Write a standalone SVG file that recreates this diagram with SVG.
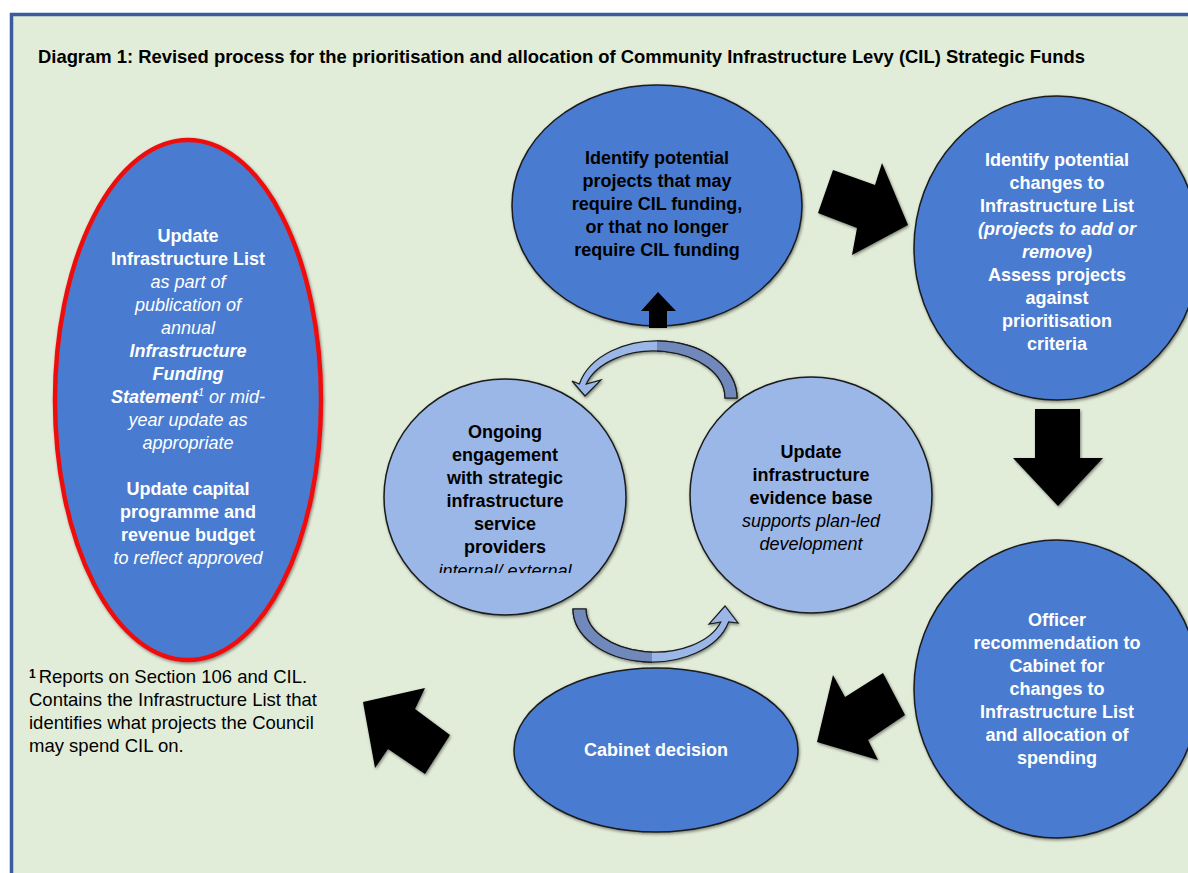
<svg xmlns="http://www.w3.org/2000/svg" width="1188" height="873" viewBox="0 0 1188 873">
<defs>
<style>
.t{font-family:"Liberation Sans",Arial,sans-serif;font-size:18px;text-anchor:middle}
.b{font-weight:bold}
.i{font-style:italic}
.w{fill:#ffffff}
.k{fill:#000000}
.dark{fill:#4a7cd0;stroke:#1a1a1a;stroke-width:1.5}
.light{fill:#9bb7e8;stroke:#1a1a1a;stroke-width:1.5}
.blk{fill:#000000}
.arcL{fill:#9bb7e8;stroke:#1a1a1a;stroke-width:1.2}
.arcD{fill:#7088ba;stroke:#1a1a1a;stroke-width:1.2}
</style>
<filter id="sh" x="-10%" y="-10%" width="120%" height="120%">
<feDropShadow dx="1" dy="1.5" stdDeviation="1.5" flood-color="#000" flood-opacity="0.45"/>
</filter>
<clipPath id="clipOngoing"><rect x="380" y="380" width="250" height="193"/></clipPath>
<clipPath id="clipTopR"><rect x="657" y="320" width="100" height="100"/></clipPath>
<clipPath id="clipBotL"><rect x="560" y="590" width="92" height="90"/></clipPath>
</defs>

<rect x="0" y="0" width="1188" height="873" fill="#ffffff"/>
<rect x="11.5" y="14.5" width="1200" height="900" fill="#e2edd9" stroke="#3b5b9c" stroke-width="3.5"/>

<text x="38" y="63" font-family="Liberation Sans, Arial, sans-serif" font-size="18.5" font-weight="bold" fill="#000" textLength="1047" lengthAdjust="spacingAndGlyphs">Diagram 1: Revised process for the prioritisation and allocation of Community Infrastructure Levy (CIL) Strategic Funds</text>

<g id="node-update-list">
  <ellipse cx="188" cy="400" rx="133" ry="260" fill="#4a7cd0" stroke="#ee1111" stroke-width="4.5" filter="url(#sh)"/>
  <text class="t w b" x="188" y="242">Update</text>
  <text class="t w b" x="188" y="265">Infrastructure List</text>
  <text class="t w i" x="188" y="288">as part of</text>
  <text class="t w i" x="188" y="311">publication of</text>
  <text class="t w i" x="188" y="334">annual</text>
  <text class="t w b i" x="188" y="357">Infrastructure</text>
  <text class="t w b i" x="188" y="380">Funding</text>
  <text class="t w i" x="188" y="403"><tspan font-weight="bold">Statement</tspan><tspan font-size="11" dy="-7">1</tspan><tspan dy="7"> or mid-</tspan></text>
  <text class="t w i" x="188" y="426">year update as</text>
  <text class="t w i" x="188" y="449">appropriate</text>
  <text class="t w b" x="188" y="495">Update capital</text>
  <text class="t w b" x="188" y="518">programme and</text>
  <text class="t w b" x="188" y="541">revenue budget</text>
  <text class="t w i" x="188" y="564">to reflect approved</text>
</g>

<g id="node-identify-projects">
  <ellipse class="dark" cx="657" cy="205.5" rx="145" ry="120.5" filter="url(#sh)"/>
  <text class="t k b" x="657" y="164">Identify potential</text>
  <text class="t k b" x="657" y="187">projects that may</text>
  <text class="t k b" x="657" y="210">require CIL funding,</text>
  <text class="t k b" x="657" y="233">or that no longer</text>
  <text class="t k b" x="657" y="256">require CIL funding</text>
</g>

<g id="node-identify-changes">
  <ellipse class="dark" cx="1057" cy="248" rx="143" ry="152" filter="url(#sh)"/>
  <text class="t w b" x="1057" y="166">Identify potential</text>
  <text class="t w b" x="1057" y="189">changes to</text>
  <text class="t w b" x="1057" y="212">Infrastructure List</text>
  <text class="t w b i" x="1057" y="235">(projects to add or</text>
  <text class="t w b i" x="1057" y="258">remove)</text>
  <text class="t w b" x="1057" y="281">Assess projects</text>
  <text class="t w b" x="1057" y="304">against</text>
  <text class="t w b" x="1057" y="327">prioritisation</text>
  <text class="t w b" x="1057" y="350">criteria</text>
</g>

<g id="node-officer">
  <ellipse class="dark" cx="1057" cy="689" rx="143" ry="149" filter="url(#sh)"/>
  <text class="t w b" x="1057" y="626">Officer</text>
  <text class="t w b" x="1057" y="649">recommendation to</text>
  <text class="t w b" x="1057" y="672">Cabinet for</text>
  <text class="t w b" x="1057" y="695">changes to</text>
  <text class="t w b" x="1057" y="718">Infrastructure List</text>
  <text class="t w b" x="1057" y="741">and allocation of</text>
  <text class="t w b" x="1057" y="764">spending</text>
</g>

<g id="node-cabinet">
  <ellipse class="dark" cx="656" cy="750" rx="142" ry="82" filter="url(#sh)"/>
  <text class="t w b" x="656" y="756">Cabinet decision</text>
</g>

<g id="node-ongoing">
  <ellipse class="light" cx="505" cy="497" rx="121" ry="118" filter="url(#sh)"/>
  <text class="t k b" x="505" y="438">Ongoing</text>
  <text class="t k b" x="505" y="461">engagement</text>
  <text class="t k b" x="505" y="484">with strategic</text>
  <text class="t k b" x="505" y="507">infrastructure</text>
  <text class="t k b" x="505" y="530">service</text>
  <text class="t k b" x="505" y="553">providers</text>
  <text class="t k i" x="505" y="577" clip-path="url(#clipOngoing)">internal/ external</text>
</g>

<g id="node-evidence">
  <ellipse class="light" cx="811" cy="495" rx="121" ry="118" filter="url(#sh)"/>
  <text class="t k b" x="811" y="458">Update</text>
  <text class="t k b" x="811" y="481">infrastructure</text>
  <text class="t k b" x="811" y="504">evidence base</text>
  <text class="t k i" x="811" y="527">supports plan-led</text>
  <text class="t k i" x="811" y="550">development</text>
</g>

<g id="connectors">
  <polygon id="arrow-right" class="blk" filter="url(#sh)" points="833,170 818,213 857,228 852,255 908,225 882,163 875,185"/>
  <polygon id="arrow-down" class="blk" filter="url(#sh)" points="1035,409 1080,409 1080,458 1103,458 1058,506 1013,458 1035,458"/>
  <polygon id="arrow-downleft" class="blk" filter="url(#sh)" points="833,675 845,697 883,673 905,715 868,740 878,760 817,742"/>
  <polygon id="arrow-upleft" class="blk" filter="url(#sh)" points="363,702 425,688 415,709 450,735 425,774 388,749 375,768"/>
  <polygon id="arrow-up" class="blk" points="658,292 676,311 667,311 667,328 649,328 649,311 641,311"/>
  <g id="arc-top" filter="url(#sh)">
    <path class="arcL" d="M737,398 A80,57 0 0 0 579.4,384 L572,381 L585,396 L601,380 L586.2,384 A71,47 0 0 1 725,398 Z"/>
    <path class="arcD" clip-path="url(#clipTopR)" d="M737,398 A80,57 0 0 0 579.4,384 L572,381 L585,396 L601,380 L586.2,384 A71,47 0 0 1 725,398 Z"/>
  </g>
  <g id="arc-bottom" filter="url(#sh)">
    <path class="arcL" d="M573,609 A79,53 0 0 0 728.6,622 L738,623 L725,606 L709,624 L720.8,622 A69,43 0 0 1 586,609 Z"/>
    <path class="arcD" clip-path="url(#clipBotL)" d="M573,609 A79,53 0 0 0 728.6,622 L738,623 L725,606 L709,624 L720.8,622 A69,43 0 0 1 586,609 Z"/>
  </g>
</g>

<g id="footnote" font-family="Liberation Sans, Arial, sans-serif" font-size="18.5" fill="#000">
  <text x="29" y="683"><tspan font-weight="bold" font-size="12" dy="-5">1</tspan><tspan dy="5" dx="3">Reports on Section 106 and CIL.</tspan></text>
  <text x="29" y="706">Contains the Infrastructure List that</text>
  <text x="29" y="729">identifies what projects the Council</text>
  <text x="29" y="752">may spend CIL on.</text>
</g>
</svg>
